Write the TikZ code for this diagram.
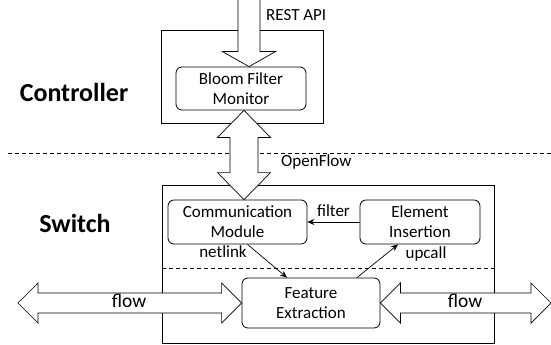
\documentclass[tikz,border=0pt]{standalone}
\usepackage{fontspec}
\setmainfont{Carlito}
\usetikzlibrary{arrows.meta,calc}

% block arrows: vertical double, horizontal double, vertical single
\newcommand{\vdouble}[2]{%
  \path[blockarrow] let \p1=(#1), \p2=(#2) in
    (\p1) -- (\x1-26.5pt,\y1-27pt) -- (\x1-14pt,\y1-27pt)
    -- (\x1-14pt,\y2+27pt) -- (\x1-26.5pt,\y2+27pt) -- (\x1,\y2)
    -- (\x1+26.5pt,\y2+27pt) -- (\x1+14pt,\y2+27pt)
    -- (\x1+14pt,\y1-27pt) -- (\x1+26.5pt,\y1-27pt) -- cycle;}
\newcommand{\hdouble}[2]{%
  \path[blockarrow] let \p1=(#1), \p2=(#2) in
    (\p1) -- (\x1+20pt,\y1+20pt) -- (\x1+20pt,\y1+10pt)
    -- (\x2-20pt,\y1+10pt) -- (\x2-20pt,\y1+20pt) -- (\x2,\y1)
    -- (\x2-20pt,\y1-20pt) -- (\x2-20pt,\y1-10pt)
    -- (\x1+20pt,\y1-10pt) -- (\x1+20pt,\y1-20pt) -- cycle;}
\newcommand{\vsingle}[2]{%
  \path[blockarrow] let \p1=(#1), \p2=(#2) in
    (\x1-11pt,\y1) -- (\x1-11pt,\y2+15pt) -- (\x1-26.5pt,\y2+15pt)
    -- (\x1,\y2) -- (\x1+26.5pt,\y2+15pt) -- (\x1+11pt,\y2+15pt)
    -- (\x1+11pt,\y1) -- cycle;}

\begin{document}
\begin{tikzpicture}[x=1pt, y=-1pt, >={Stealth[length=7pt,width=6pt]},
  box/.style={draw, line width=0.8pt, inner sep=0pt},
  module/.style={box, rounded corners=6pt, align=center,
    font=\fontsize{17}{20}\selectfont},
  blockarrow/.style={draw, fill=white, line width=0.7pt, line join=miter},
  tag/.style={inner sep=0pt, font=\fontsize{17}{20}\selectfont},
  flowtag/.style={inner sep=0pt, font=\fontsize{19.5}{22}\selectfont},
  plane/.style={inner sep=0pt, font=\bfseries\fontsize{26}{30}\selectfont},
  divider/.style={dashed, line width=0.7pt, dash pattern=on 4pt off 3pt}]
  \useasboundingbox (0,0) rectangle (551,345);

  % control / data plane split
  \draw[divider] (8,153) -- (551,153);
  \node[plane] (ctrllbl) at (74,92) {Controller};
  \node[plane] (swlbl) at (75,223) {Switch};

  % containers
  \node[box, minimum width=162pt, minimum height=93pt] (ctrl) at (242,76.5) {};
  \node[box, minimum width=332pt, minimum height=158pt] (switch) at (328,264) {};
  \draw[divider] (switch.west |- 0,268) -- (switch.east |- 0,268);

  % modules
  \node[module, minimum width=130pt, minimum height=43pt] (bfm) at (241,88.5) {Bloom Filter\\Monitor};
  \node[module, minimum width=139pt, minimum height=44pt] (comm) at (237.5,222) {Communication\\Module};
  \node[module, minimum width=120pt, minimum height=44pt] (elem) at (420,222) {Element\\Insertion};
  \node[module, minimum width=138pt, minimum height=50pt] (feat) at (311,303) {Feature\\Extraction};

  % block arrows
  \coordinate (rest) at (249,-1);
  \coordinate (restTip) at ($(bfm.north)+(8,0)$);
  \coordinate (ofTop) at ($(bfm.south)+(3,0)$);
  \coordinate (ofBot) at ($(comm.north)+(6.5,0)$);
  \coordinate (inL) at (18,303);
  \coordinate (outR) at (551,303);
  \vsingle{rest}{restTip}
  \vdouble{ofTop}{ofBot}
  \hdouble{inL}{feat.west}
  \hdouble{feat.east}{outR}
  \node[tag, anchor=west] (restlbl) at (266,15) {REST API};
  \node[tag, anchor=west] (oflbl) at (281,162) {OpenFlow};
  \node[flowtag] (flowL) at (129,301) {flow};
  \node[flowtag] (flowR) at (465,301) {flow};

  % internal messages
  \draw[->, line width=0.7pt] (elem.west) -- node[tag, above=5pt] (filterlbl) {filter} (comm.east);
  \draw[->, line width=0.7pt] ($(comm.south)+(10,0)$) -- ($(feat.north)+(-24,0)$);
  \draw[->, line width=0.7pt] ($(feat.north)+(46,0)$) -- ($(elem.south)+(-22,0)$);
  \node[tag] (netlinklbl) at (223,252) {netlink};
  \node[tag] (upcalllbl) at (426,254) {upcall};
\end{tikzpicture}
\end{document}
